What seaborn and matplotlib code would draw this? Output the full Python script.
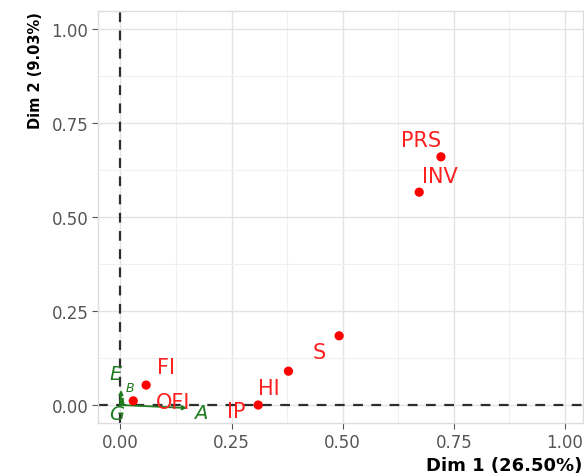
import numpy as np
import pandas as pd
import matplotlib
matplotlib.use("Agg")
import matplotlib.pyplot as plt
import seaborn as sns

# Active categories (red points)
cat_names = ["PRS", "INV", "S", "HI", "IP", "FI", "OFI"]
cat_dim1 = [0.721, 0.672, 0.492, 0.378, 0.310, 0.058, 0.029]
cat_dim2 = [0.660, 0.566, 0.184, 0.090, 0.000, 0.053, 0.011]

# Supplementary quantitative variables (green arrows)
sup_names = ["A", "E", "B", "G"]
sup_dim1 = [0.150, 0.002, 0.007, -0.002]
sup_dim2 = [-0.008, 0.040, 0.022, -0.004]

x_ticks = [0.00, 0.25, 0.50, 0.75, 1.00]
y_ticks = [0.00, 0.25, 0.50, 0.75, 1.00]
x_title = "Dim 1 (26.50%)"
y_title = "Dim 2 (9.03%)"

# label offsets (in points) for repel-like placement
cat_offsets = {"PRS": (-14, 12), "INV": (15, 12), "S": (-14, -12), "HI": (-14, -12),
               "IP": (-16, -4), "FI": (14, 13), "OFI": (29, -1)}
sup_offsets = {"A": (10, -3), "E": (-4, 12), "B": (5, 7), "G": (-2, -5)}

sns.set_theme(style="whitegrid")
plt.rcParams["font.family"] = ["DejaVu Sans"]

fig = plt.figure(figsize=(5.84, 4.77), dpi=100)
ax = fig.add_axes([0.168, 0.111, 0.830, 0.864])
ax.set_facecolor("white")

df = pd.DataFrame({"name": cat_names, "Dim1": cat_dim1, "Dim2": cat_dim2})
sns.scatterplot(data=df, x="Dim1", y="Dim2", color="#FF0000", s=44, edgecolor="none",
                ax=ax, zorder=4, legend=False)

ax.axhline(0, color="#2E2E2E", ls=(0, (4.4, 3.8)), lw=1.6, zorder=2)
ax.axvline(0, color="#2E2E2E", ls=(0, (4.4, 3.8)), lw=1.6, zorder=2)

green = "#1E7B1E"
for n, x, y in zip(sup_names, sup_dim1, sup_dim2):
    ax.annotate("", xy=(x, y), xytext=(0, 0),
                arrowprops=dict(arrowstyle="-|>", color=green, lw=1.3,
                                mutation_scale=6, shrinkA=0, shrinkB=0), zorder=3)
    dx, dy = sup_offsets[n]
    ax.annotate(n, xy=(x, y), xytext=(dx, dy), textcoords="offset points",
                ha="center", va="center", color=green, fontsize=14 if n != "B" else 9,
                fontstyle="italic", zorder=5)

for n, x, y in zip(cat_names, cat_dim1, cat_dim2):
    dx, dy = cat_offsets[n]
    ax.annotate(n, xy=(x, y), xytext=(dx, dy), textcoords="offset points",
                ha="center", va="center", color="#FF2020", fontsize=15, zorder=5)

ax.set_xlim(-0.05, 1.04)
ax.set_ylim(-0.048, 1.048)
ax.set_xticks(x_ticks)
ax.set_yticks(y_ticks)
ax.set_xticklabels([f"{v:.2f}" for v in x_ticks])
ax.set_yticklabels([f"{v:.2f}" for v in y_ticks])
ax.set_xticks(np.arange(0.125, 1.0, 0.25), minor=True)
ax.set_yticks(np.arange(0.125, 1.0, 0.25), minor=True)
ax.grid(which="major", color="#E3E3E3", lw=1.0)
ax.grid(which="minor", color="#F0F0F0", lw=0.8)
ax.tick_params(axis="both", which="major", labelsize=12, labelcolor="#555555",
               length=4, width=0.8, color="#555555", direction="out", pad=3)
ax.tick_params(axis="both", which="minor", length=0)
ax.tick_params(left=True, bottom=True)
for s in ax.spines.values():
    s.set_color("#DDDDDD")
    s.set_linewidth(1.0)

ax.set_xlabel(x_title, fontsize=13, fontweight="bold", color="black", loc="right", labelpad=4)
ax.set_ylabel(y_title, fontsize=10.5, fontweight="bold", color="black", loc="top", labelpad=6)

fig.savefig("out.png", dpi=100)
